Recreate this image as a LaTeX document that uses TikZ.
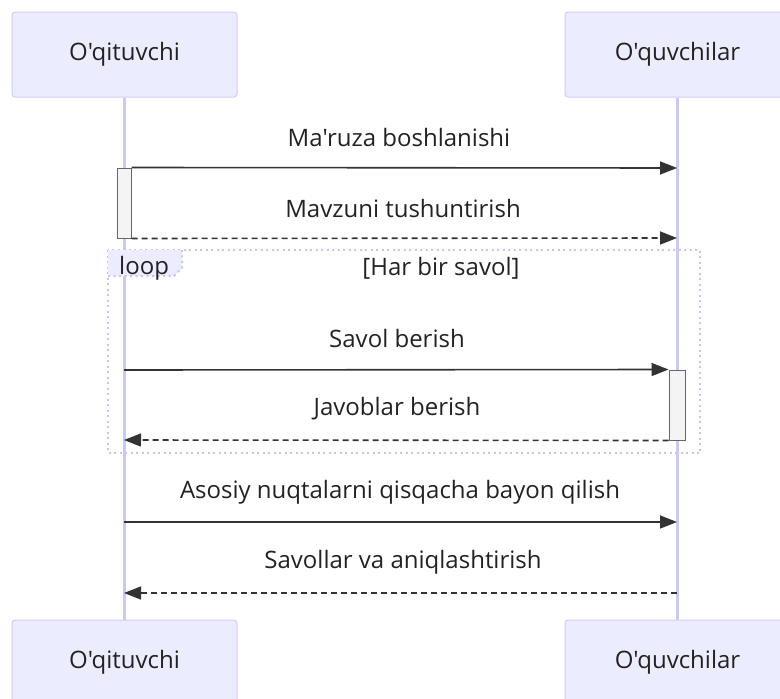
\documentclass[tikz,border=0pt]{standalone}
\usepackage{fontspec}
\setmainfont{Open Sans}[Ligatures=TeXOff]
\usetikzlibrary{arrows.meta}
\definecolor{actfill}{HTML}{ECECFF}
\definecolor{actdraw}{HTML}{D2CDF5}
\definecolor{lifec}{HTML}{CCC8F5}
\definecolor{msgc}{HTML}{333333}
\definecolor{txtc}{HTML}{222222}
\definecolor{actvfill}{HTML}{F4F4F4}
\definecolor{actvdraw}{HTML}{666666}
\definecolor{loopc}{HTML}{C8C4F0}
\begin{document}
\begin{tikzpicture}[x=1pt,y=-1pt,
  actor/.style={draw=actdraw,fill=actfill,line width=1pt,rounded corners=3pt,minimum width=225pt,minimum height=85pt,inner sep=0pt,text=txtc,font=\fontsize{24}{28}\selectfont},
  lifeline/.style={draw=lifec,line width=2.2pt},
  msg/.style={draw=msgc,line width=1.6pt,-{Triangle[length=17pt,width=13pt]}},
  reply/.style={msg,dash pattern=on 6pt off 4pt},
  lbl/.style={font=\fontsize{24}{28}\selectfont,text=txtc,inner sep=0pt},
  actv/.style={draw=actvdraw,fill=actvfill,line width=1pt},
  loopbox/.style={draw=loopc,line width=2pt,dash pattern=on 2pt off 3.5pt}
]
\useasboundingbox (0,0) rectangle (780,699);
% actors
\node[actor] (ta) at (124.5,54.5) {O'qituvchi};
\node[actor] (tb) at (677.5,54.5) {O'quvchilar};
\node[actor] (ba) at (124.5,662.5) {O'qituvchi};
\node[actor] (bb) at (677.5,662.5) {O'quvchilar};
% lifelines
\draw[lifeline] (ta.south) -- (ba.north);
\draw[lifeline] (tb.south) -- (bb.north);
% loop frame
\draw[loopbox] (108,250) rectangle (700,453);
\fill[actfill] (108,250) -- (182,250) -- (182,268) -- (174,276) -- (108,276) -- cycle;
\draw[loopbox] (108,276) -- (174,276) -- (182,268) -- (182,250);
\node[lbl,anchor=west] (looplbl) at (119,268) {loop};
\node[lbl] (loopcond) at (441,268) {[Har bir savol]};
% activations
\node[actv,minimum width=14pt,minimum height=70pt,inner sep=0pt] (act1) at (124,203) {};
\node[actv,minimum width=16pt,minimum height=70pt,inner sep=0pt] (act2) at (677,405) {};
% message coordinates
\coordinate (m1b) at (677,168);
\coordinate (m2b) at (677,238);
\coordinate (m3a) at (124,370);
\coordinate (m4b) at (124,440);
\coordinate (m5a) at (124,522);
\coordinate (m5b) at (677,522);
\coordinate (m6a) at (677,593);
\coordinate (m6b) at (124,593);
% messages
\draw[msg] (act1.north east) -- (m1b);
\node[lbl] (t1) at (399,137) {Ma'ruza boshlanishi};
\draw[reply] (act1.south east) -- (m2b);
\node[lbl] (t2) at (403,208) {Mavzuni tushuntirish};
\draw[msg] (m3a) -- (act2.north west);
\node[lbl] (t3) at (397,338) {Savol berish};
\draw[reply] (act2.south west) -- (m4b);
\node[lbl] (t4) at (397,409) {Javoblar berish};
\draw[msg] (m5a) -- (m5b);
\node[lbl] (t5) at (400,492) {Asosiy nuqtalarni qisqacha bayon qilish};
\draw[reply] (m6a) -- (m6b);
\node[lbl] (t6) at (403,562) {Savollar va aniqlashtirish};
\end{tikzpicture}
\end{document}
